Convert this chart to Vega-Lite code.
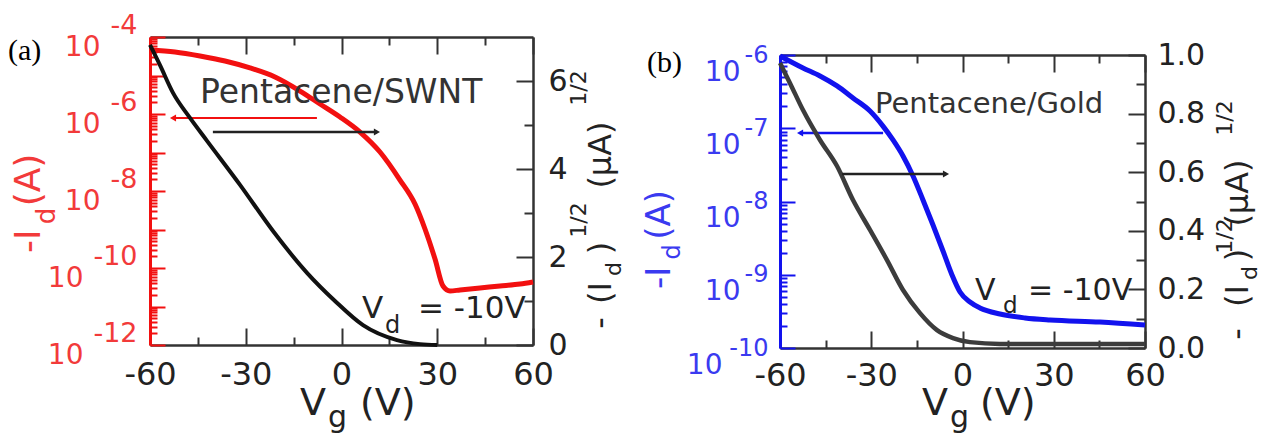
{
  "$schema": "https://vega.github.io/schema/vega-lite/v6.json",
  "background": "white",
  "padding": {"left": 8, "top": 11, "right": 4, "bottom": 2},
  "autosize": {"type": "pad"},
  "bounds": "flush",
  "spacing": 247,
  "config": {
    "view": {"stroke": null},
    "axis": {"grid": false, "labelFont": "DejaVu Sans", "labelFlush": false, "labelOverlap": false, "labelBound": false, "tickWidth": 2, "domainWidth": 2.5, "tickColor": "#333", "domainColor": "#333", "labelColor": "#222"},
    "text": {"font": "DejaVu Sans"}
  },
  "datasets": {
    "a_red": [
      {"Vg": -60, "Id": 4.59e-5}, {"Vg": -52.17, "Id": 4.07e-5}, {"Vg": -44.33, "Id": 3.21e-5}, {"Vg": -36.5, "Id": 2.38e-5},
      {"Vg": -28.67, "Id": 1.57e-5}, {"Vg": -20.84, "Id": 9.14e-6}, {"Vg": -13.0, "Id": 3.95e-6}, {"Vg": -6.74, "Id": 1.82e-6},
      {"Vg": -0.47, "Id": 8.35e-7}, {"Vg": 5.8, "Id": 3.4e-7}, {"Vg": 12.06, "Id": 1.03e-7}, {"Vg": 18.33, "Id": 1.93e-8},
      {"Vg": 23.03, "Id": 4.59e-9}, {"Vg": 26.16, "Id": 1.03e-9}, {"Vg": 29.3, "Id": 1.71e-10}, {"Vg": 31.8, "Id": 3.4e-11},
      {"Vg": 34.0, "Id": 2.53e-11}, {"Vg": 37.13, "Id": 2.69e-11}, {"Vg": 43.4, "Id": 3.03e-11}, {"Vg": 49.66, "Id": 3.4e-11},
      {"Vg": 55.93, "Id": 3.84e-11}, {"Vg": 60, "Id": 4.32e-11}
    ],
    "a_blk": [
      {"Vg": -60, "sq": 6.82}, {"Vg": -56.87, "sq": 6.36}, {"Vg": -52.79, "sq": 5.73}, {"Vg": -47.47, "sq": 5.16},
      {"Vg": -42.14, "sq": 4.64}, {"Vg": -31.8, "sq": 3.64}, {"Vg": -21.46, "sq": 2.59}, {"Vg": -10.81, "sq": 1.64},
      {"Vg": -2.04, "sq": 1.0}, {"Vg": 6.74, "sq": 0.45}, {"Vg": 17.39, "sq": 0.11}, {"Vg": 24.6, "sq": 0.02}, {"Vg": 30, "sq": 0.0}
    ],
    "b_blue": [
      {"Vg": -60, "Id": 9.69e-7}, {"Vg": -52.44, "Id": 6.65e-7}, {"Vg": -46.85, "Id": 5.17e-7}, {"Vg": -41.26, "Id": 3.78e-7},
      {"Vg": -36.0, "Id": 2.59e-7}, {"Vg": -30.41, "Id": 1.72e-7}, {"Vg": -26.14, "Id": 1.07e-7}, {"Vg": -22.85, "Id": 6.92e-8},
      {"Vg": -19.56, "Id": 4.18e-8}, {"Vg": -16.27, "Id": 2.23e-8}, {"Vg": -12.99, "Id": 1.05e-8}, {"Vg": -9.7, "Id": 4.78e-9},
      {"Vg": -6.41, "Id": 2.11e-9}, {"Vg": -3.45, "Id": 9.93e-10}, {"Vg": -0.82, "Id": 5.81e-10}, {"Vg": 2.47, "Id": 4.24e-10},
      {"Vg": 5.75, "Id": 3.52e-10}, {"Vg": 12.33, "Id": 2.91e-10}, {"Vg": 20.55, "Id": 2.57e-10}, {"Vg": 28.79, "Id": 2.41e-10},
      {"Vg": 45.21, "Id": 2.26e-10}, {"Vg": 60, "Id": 2.06e-10}
    ],
    "b_blk": [
      {"Vg": -60, "sq": 0.973}, {"Vg": -56.71, "sq": 0.904}, {"Vg": -52.44, "sq": 0.812}, {"Vg": -46.85, "sq": 0.71},
      {"Vg": -41.26, "sq": 0.621}, {"Vg": -36.0, "sq": 0.505}, {"Vg": -30.41, "sq": 0.403}, {"Vg": -24.82, "sq": 0.3},
      {"Vg": -19.56, "sq": 0.198}, {"Vg": -13.97, "sq": 0.119}, {"Vg": -8.38, "sq": 0.061}, {"Vg": -3.12, "sq": 0.034},
      {"Vg": 2.47, "sq": 0.02}, {"Vg": 12.33, "sq": 0.014}, {"Vg": 28.79, "sq": 0.014}, {"Vg": 45.21, "sq": 0.014}, {"Vg": 60, "sq": 0.014}
    ]
  },
  "hconcat": [
    {
      "width": 383,
      "height": 308,
      "layer": [
        {
          "layer": [
            {
              "data": {"name": "a_red"},
              "mark": {"type": "line", "color": "#f21010", "strokeWidth": 5, "interpolate": "monotone"},
              "encoding": {
                "x": {"field": "Vg", "type": "quantitative", "scale": {"domain": [-60, 60], "nice": false, "zero": false},
                  "axis": {"orient": "bottom", "title": null, "values": [-60, -45, -30, -15, 0, 15, 30, 45, 60],
                    "labelExpr": "datum.value % 30 == 0 ? '' + datum.value : ''",
                    "tickSize": {"condition": {"test": "datum.value % 30 == 0", "value": -17}, "value": -8},
                    "labelPadding": 31, "labelFontSize": 32}},
                "y": {"field": "Id", "type": "quantitative", "scale": {"type": "log", "domain": [1e-12, 1e-4], "nice": false},
                  "axis": {"orient": "left", "title": null,
                    "values": [1e-12,2e-12,3e-12,4e-12,5e-12,6e-12,7e-12,8e-12,9e-12,1e-11,2e-11,3e-11,4e-11,5e-11,6e-11,7e-11,8e-11,9e-11,1e-10,2e-10,3e-10,4e-10,5e-10,6e-10,7e-10,8e-10,9e-10,1e-9,2e-9,3e-9,4e-9,5e-9,6e-9,7e-9,8e-9,9e-9,1e-8,2e-8,3e-8,4e-8,5e-8,6e-8,7e-8,8e-8,9e-8,1e-7,2e-7,3e-7,4e-7,5e-7,6e-7,7e-7,8e-7,9e-7,1e-6,2e-6,3e-6,4e-6,5e-6,6e-6,7e-6,8e-6,9e-6,1e-5,2e-5,3e-5,4e-5,5e-5,6e-5,7e-5,8e-5,9e-5,1e-4],
                    "labelExpr": "abs(log(datum.value)/LN10 - round(log(datum.value)/LN10)) < 0.01 && round(log(datum.value)/LN10) % 2 == 0 ? '10' : ''",
                    "tickSize": {"condition": {"test": "abs(log(datum.value)/LN10 - round(log(datum.value)/LN10)) < 0.01", "value": -15}, "value": -7},
                    "labelPadding": {"condition": {"test": "datum.value < 3e-10", "value": 82}, "value": 65},
                    "labelOffset": 10, "labelFontSize": 28, "labelColor": "#f23a3a", "tickColor": "#f21010", "domainColor": "#f21010", "domainWidth": 3}}
              }
            },
            {
              "data": {"values": [{"Vg0": -52.8, "Vg1": -7.7, "Id": 7.87e-7}]},
              "mark": {"type": "rule", "color": "#f21010", "strokeWidth": 2},
              "encoding": {
                "x": {"field": "Vg0", "type": "quantitative", "scale": {"domain": [-60, 60], "nice": false, "zero": false}, "axis": null},
                "x2": {"field": "Vg1"},
                "y": {"field": "Id", "type": "quantitative", "scale": {"type": "log", "domain": [1e-12, 1e-4], "nice": false},
                  "axis": {"orient": "left", "title": null, "values": [1e-12, 1e-10, 1e-8, 1e-6, 1e-4],
                    "labelExpr": "'-' + abs(round(log(datum.value)/LN10))",
                    "ticks": false, "tickSize": 0, "domain": false, "labelPadding": 13, "labelOffset": -12,
                    "labelFontSize": 27, "labelColor": "#f23a3a", "labelAlign": "right"}}
              }
            },
            {
              "data": {"values": [{"Vg": -52.8, "Id": 7.87e-7}]},
              "mark": {"type": "point", "shape": "triangle-left", "filled": true, "color": "#f21010", "size": 50, "opacity": 1},
              "encoding": {
                "x": {"field": "Vg", "type": "quantitative", "scale": {"domain": [-60, 60], "nice": false, "zero": false}, "axis": null},
                "y": {"field": "Id", "type": "quantitative", "scale": {"type": "log", "domain": [1e-12, 1e-4], "nice": false}, "axis": null}
              }
            }
          ],
          "resolve": {"axis": {"x": "independent", "y": "independent"}}
        },
        {
          "layer": [
            {
              "data": {"name": "a_blk"},
              "mark": {"type": "line", "color": "#111", "strokeWidth": 4, "interpolate": "monotone"},
              "encoding": {
                "x": {"field": "Vg", "type": "quantitative", "scale": {"domain": [-60, 60], "nice": false, "zero": false},
                  "axis": {"orient": "top", "title": null, "values": [-60, -45, -30, -15, 0, 15, 30, 45, 60], "labels": false,
                    "tickSize": {"condition": {"test": "datum.value % 30 == 0", "value": -17}, "value": -8}}},
                "y": {"field": "sq", "type": "quantitative", "scale": {"domain": [0, 7], "nice": false, "zero": false},
                  "axis": {"orient": "right", "title": null, "values": [0, 1, 2, 3, 4, 5, 6],
                    "labelExpr": "datum.value % 2 == 0 ? '' + datum.value : ''",
                    "tickSize": {"condition": {"test": "datum.value % 2 == 0", "value": -17}, "value": -9},
                    "labelPadding": 32, "labelFontSize": 30}}
              }
            },
            {
              "data": {"values": [{"Vg0": -40.3, "Vg1": 11.1, "sq": 4.84}]},
              "mark": {"type": "rule", "color": "#222", "strokeWidth": 2.5},
              "encoding": {
                "x": {"field": "Vg0", "type": "quantitative", "scale": {"domain": [-60, 60], "nice": false, "zero": false}, "axis": null},
                "x2": {"field": "Vg1"},
                "y": {"field": "sq", "type": "quantitative", "scale": {"domain": [0, 7], "nice": false, "zero": false}, "axis": null}
              }
            },
            {
              "data": {"values": [{"Vg": 11.1, "sq": 4.84}]},
              "mark": {"type": "point", "shape": "triangle-right", "filled": true, "color": "#222", "size": 50, "opacity": 1},
              "encoding": {
                "x": {"field": "Vg", "type": "quantitative", "scale": {"domain": [-60, 60], "nice": false, "zero": false}, "axis": null},
                "y": {"field": "sq", "type": "quantitative", "scale": {"domain": [0, 7], "nice": false, "zero": false}, "axis": null}
              }
            },
            {
              "data": {"values": [{"Vg": -44.33, "sq": 5.5, "t": "Pentacene/SWNT"}]},
              "mark": {"type": "text", "align": "left", "baseline": "alphabetic", "fontSize": 33, "color": "#333"},
              "encoding": {"x": {"field": "Vg", "type": "quantitative", "axis": null}, "y": {"field": "sq", "type": "quantitative", "axis": null}, "text": {"field": "t"}}
            },
            {
              "data": {"values": [{"Vg": 6.42, "sq": 0.614, "t": "V"}, {"Vg": 23.97, "sq": 0.614, "t": "= -10V"}]},
              "mark": {"type": "text", "align": "left", "baseline": "alphabetic", "fontSize": 31, "color": "#222"},
              "encoding": {"x": {"field": "Vg", "type": "quantitative", "axis": null}, "y": {"field": "sq", "type": "quantitative", "axis": null}, "text": {"field": "t"}}
            },
            {
              "data": {"values": [{"Vg": 13.63, "sq": 0.273, "t": "d"}]},
              "mark": {"type": "text", "align": "left", "baseline": "alphabetic", "fontSize": 24, "color": "#222"},
              "encoding": {"x": {"field": "Vg", "type": "quantitative", "axis": null}, "y": {"field": "sq", "type": "quantitative", "axis": null}, "text": {"field": "t"}}
            },
            {
              "data": {"values": [{"Vg": -13.0, "sq": -1.591, "t": "V"}, {"Vg": 5.8, "sq": -1.591, "t": "(V)"}]},
              "mark": {"type": "text", "align": "left", "baseline": "alphabetic", "fontSize": 38, "color": "#222"},
              "encoding": {"x": {"field": "Vg", "type": "quantitative", "axis": null}, "y": {"field": "sq", "type": "quantitative", "axis": null}, "text": {"field": "t"}}
            },
            {
              "data": {"values": [{"Vg": -4.23, "sq": -1.864, "t": "g"}]},
              "mark": {"type": "text", "align": "left", "baseline": "alphabetic", "fontSize": 30, "color": "#222"},
              "encoding": {"x": {"field": "Vg", "type": "quantitative", "axis": null}, "y": {"field": "sq", "type": "quantitative", "axis": null}, "text": {"field": "t"}}
            },
            {
              "data": {"values": [{"Vg": -104.49, "sq": 6.47, "t": "(a)"}]},
              "mark": {"type": "text", "align": "left", "baseline": "alphabetic", "fontSize": 30, "font": "Liberation Serif", "color": "#000"},
              "encoding": {"x": {"field": "Vg", "type": "quantitative", "axis": null}, "y": {"field": "sq", "type": "quantitative", "axis": null}, "text": {"field": "t"}}
            },
            {
              "data": {"values": [{"Vg": -94.6, "sq": 2.36, "t": "-I"}, {"Vg": -94.6, "sq": 3.75, "t": "(A)"}]},
              "mark": {"type": "text", "align": "center", "baseline": "alphabetic", "angle": 270, "fontSize": 36, "color": "#f23a3a"},
              "encoding": {"x": {"field": "Vg", "type": "quantitative", "axis": null}, "y": {"field": "sq", "type": "quantitative", "axis": null}, "text": {"field": "t"}}
            },
            {
              "data": {"values": [{"Vg": -89.9, "sq": 2.93, "t": "d"}]},
              "mark": {"type": "text", "align": "center", "baseline": "alphabetic", "angle": 270, "fontSize": 26, "color": "#f23a3a"},
              "encoding": {"x": {"field": "Vg", "type": "quantitative", "axis": null}, "y": {"field": "sq", "type": "quantitative", "axis": null}, "text": {"field": "t"}}
            },
            {
              "data": {"values": [{"Vg": 84.44, "sq": 0.5, "t": "-"}, {"Vg": 84.44, "sq": 1.182, "t": "(I"}, {"Vg": 84.44, "sq": 2.205, "t": ")"}, {"Vg": 84.44, "sq": 4.318, "t": "(μA)"}]},
              "mark": {"type": "text", "align": "center", "baseline": "alphabetic", "angle": 270, "fontSize": 32, "color": "#222"},
              "encoding": {"x": {"field": "Vg", "type": "quantitative", "axis": null}, "y": {"field": "sq", "type": "quantitative", "axis": null}, "text": {"field": "t"}}
            },
            {
              "data": {"values": [{"Vg": 87.57, "sq": 1.727, "t": "d"}, {"Vg": 76.6, "sq": 2.841, "t": "1/2"}, {"Vg": 76.6, "sq": 5.841, "t": "1/2"}]},
              "mark": {"type": "text", "align": "center", "baseline": "alphabetic", "angle": 270, "fontSize": 22, "color": "#222"},
              "encoding": {"x": {"field": "Vg", "type": "quantitative", "axis": null}, "y": {"field": "sq", "type": "quantitative", "axis": null}, "text": {"field": "t"}}
            }
          ],
          "resolve": {"axis": {"x": "independent", "y": "independent"}}
        }
      ],
      "resolve": {"scale": {"y": "independent"}, "axis": {"x": "independent"}}
    },
    {
      "spacing": 0,
      "bounds": "flush",
      "vconcat": [
        {
          "width": 365,
          "height": 18,
          "data": {"values": [{"k": 0}]},
          "mark": {"type": "point", "opacity": 0}
        },
        {
          "width": 365,
          "height": 293,
          "layer": [
            {
              "layer": [
                {
                  "data": {"name": "b_blue"},
                  "mark": {"type": "line", "color": "#1212ee", "strokeWidth": 5, "interpolate": "monotone"},
                  "encoding": {
                    "x": {"field": "Vg", "type": "quantitative", "scale": {"domain": [-60, 60], "nice": false, "zero": false},
                      "axis": {"orient": "bottom", "title": null, "values": [-60, -45, -30, -15, 0, 15, 30, 45, 60],
                        "labelExpr": "datum.value % 30 == 0 ? '' + datum.value : ''",
                        "tickSize": {"condition": {"test": "datum.value % 30 == 0", "value": -17}, "value": -8},
                        "labelPadding": 29, "labelFontSize": 32}},
                    "y": {"field": "Id", "type": "quantitative", "scale": {"type": "log", "domain": [1e-10, 1e-6], "nice": false},
                      "axis": {"orient": "left", "title": null,
                        "values": [1e-10,2e-10,3e-10,4e-10,5e-10,6e-10,7e-10,8e-10,9e-10,1e-9,2e-9,3e-9,4e-9,5e-9,6e-9,7e-9,8e-9,9e-9,1e-8,2e-8,3e-8,4e-8,5e-8,6e-8,7e-8,8e-8,9e-8,1e-7,2e-7,3e-7,4e-7,5e-7,6e-7,7e-7,8e-7,9e-7,1e-6],
                        "labelExpr": "abs(log(datum.value)/LN10 - round(log(datum.value)/LN10)) < 0.01 ? '10' : ''",
                        "tickSize": {"condition": {"test": "abs(log(datum.value)/LN10 - round(log(datum.value)/LN10)) < 0.01", "value": -15}, "value": -7},
                        "labelPadding": {"condition": {"test": "datum.value < 3e-10", "value": 73}, "value": 55},
                        "labelOffset": 17, "labelFontSize": 28, "labelColor": "#3a3af0", "tickColor": "#1212ee", "domainColor": "#1212ee", "domainWidth": 3}}
                  }
                },
                {
                  "data": {"values": [{"Vg0": -53.4, "Vg1": -26.1, "Id": 8.6e-8}]},
                  "mark": {"type": "rule", "color": "#1212ee", "strokeWidth": 2.5},
                  "encoding": {
                    "x": {"field": "Vg0", "type": "quantitative", "scale": {"domain": [-60, 60], "nice": false, "zero": false}, "axis": null},
                    "x2": {"field": "Vg1"},
                    "y": {"field": "Id", "type": "quantitative", "scale": {"type": "log", "domain": [1e-10, 1e-6], "nice": false},
                      "axis": {"orient": "left", "title": null, "values": [1e-10, 1e-9, 1e-8, 1e-7, 1e-6],
                        "labelExpr": "'-' + abs(round(log(datum.value)/LN10))",
                        "ticks": false, "tickSize": 0, "domain": false, "labelPadding": 12, "labelOffset": 0,
                        "labelFontSize": 24, "labelColor": "#3a3af0", "labelAlign": "right"}}
                  }
                },
                {
                  "data": {"values": [{"Vg": -53.4, "Id": 8.6e-8}]},
                  "mark": {"type": "point", "shape": "triangle-left", "filled": true, "color": "#1212ee", "size": 50, "opacity": 1},
                  "encoding": {
                    "x": {"field": "Vg", "type": "quantitative", "scale": {"domain": [-60, 60], "nice": false, "zero": false}, "axis": null},
                    "y": {"field": "Id", "type": "quantitative", "scale": {"type": "log", "domain": [1e-10, 1e-6], "nice": false}, "axis": null}
                  }
                }
              ],
              "resolve": {"axis": {"x": "independent", "y": "independent"}}
            },
            {
              "layer": [
                {
                  "data": {"name": "b_blk"},
                  "mark": {"type": "line", "color": "#3c3c3c", "strokeWidth": 4.5, "interpolate": "monotone"},
                  "encoding": {
                    "x": {"field": "Vg", "type": "quantitative", "scale": {"domain": [-60, 60], "nice": false, "zero": false},
                      "axis": {"orient": "top", "title": null, "values": [-60, -45, -30, -15, 0, 15, 30, 45, 60], "labels": false,
                        "tickSize": {"condition": {"test": "datum.value % 30 == 0", "value": -17}, "value": -8}}},
                    "y": {"field": "sq", "type": "quantitative", "scale": {"domain": [0, 1], "nice": false, "zero": false},
                      "axis": {"orient": "right", "title": null, "values": [0, 0.1, 0.2, 0.3, 0.4, 0.5, 0.6, 0.7, 0.8, 0.9, 1.0],
                        "labelExpr": "round(datum.value*10) % 2 == 0 ? format(datum.value, '.1f') : ''",
                        "tickSize": {"condition": {"test": "round(datum.value*10) % 2 == 0", "value": -17}, "value": -9},
                        "labelPadding": 29, "labelFontSize": 30}}
                  }
                },
                {
                  "data": {"values": [{"Vg0": -39.6, "Vg1": -5.42, "sq": 0.594}]},
                  "mark": {"type": "rule", "color": "#222", "strokeWidth": 2.5},
                  "encoding": {
                    "x": {"field": "Vg0", "type": "quantitative", "scale": {"domain": [-60, 60], "nice": false, "zero": false}, "axis": null},
                    "x2": {"field": "Vg1"},
                    "y": {"field": "sq", "type": "quantitative", "scale": {"domain": [0, 1], "nice": false, "zero": false}, "axis": null}
                  }
                },
                {
                  "data": {"values": [{"Vg": -5.42, "sq": 0.594}]},
                  "mark": {"type": "point", "shape": "triangle-right", "filled": true, "color": "#222", "size": 50, "opacity": 1},
                  "encoding": {
                    "x": {"field": "Vg", "type": "quantitative", "scale": {"domain": [-60, 60], "nice": false, "zero": false}, "axis": null},
                    "y": {"field": "sq", "type": "quantitative", "scale": {"domain": [0, 1], "nice": false, "zero": false}, "axis": null}
                  }
                },
                {
                  "data": {"values": [{"Vg": -28.77, "sq": 0.802, "t": "Pentacene/Gold"}]},
                  "mark": {"type": "text", "align": "left", "baseline": "alphabetic", "fontSize": 29, "color": "#333"},
                  "encoding": {"x": {"field": "Vg", "type": "quantitative", "axis": null}, "y": {"field": "sq", "type": "quantitative", "axis": null}, "text": {"field": "t"}}
                },
                {
                  "data": {"values": [{"Vg": 4.11, "sq": 0.164, "t": "V"}, {"Vg": 21.53, "sq": 0.164, "t": "= -10V"}]},
                  "mark": {"type": "text", "align": "left", "baseline": "alphabetic", "fontSize": 30, "color": "#222"},
                  "encoding": {"x": {"field": "Vg", "type": "quantitative", "axis": null}, "y": {"field": "sq", "type": "quantitative", "axis": null}, "text": {"field": "t"}}
                },
                {
                  "data": {"values": [{"Vg": 13.32, "sq": 0.1195, "t": "d"}]},
                  "mark": {"type": "text", "align": "left", "baseline": "alphabetic", "fontSize": 23, "color": "#222"},
                  "encoding": {"x": {"field": "Vg", "type": "quantitative", "axis": null}, "y": {"field": "sq", "type": "quantitative", "axis": null}, "text": {"field": "t"}}
                },
                {
                  "data": {"values": [{"Vg": -13.31, "sq": -0.2287, "t": "V"}, {"Vg": 5.75, "sq": -0.2287, "t": "(V)"}]},
                  "mark": {"type": "text", "align": "left", "baseline": "alphabetic", "fontSize": 38, "color": "#222"},
                  "encoding": {"x": {"field": "Vg", "type": "quantitative", "axis": null}, "y": {"field": "sq", "type": "quantitative", "axis": null}, "text": {"field": "t"}}
                },
                {
                  "data": {"values": [{"Vg": -4.11, "sq": -0.2696, "t": "g"}]},
                  "mark": {"type": "text", "align": "left", "baseline": "alphabetic", "fontSize": 30, "color": "#222"},
                  "encoding": {"x": {"field": "Vg", "type": "quantitative", "axis": null}, "y": {"field": "sq", "type": "quantitative", "axis": null}, "text": {"field": "t"}}
                },
                {
                  "data": {"values": [{"Vg": -103.73, "sq": 0.942, "t": "(b)"}]},
                  "mark": {"type": "text", "align": "left", "baseline": "alphabetic", "fontSize": 30, "font": "Liberation Serif", "color": "#000"},
                  "encoding": {"x": {"field": "Vg", "type": "quantitative", "axis": null}, "y": {"field": "sq", "type": "quantitative", "axis": null}, "text": {"field": "t"}}
                },
                {
                  "data": {"values": [{"Vg": -96.16, "sq": 0.239, "t": "-I"}, {"Vg": -96.16, "sq": 0.454, "t": "(A)"}]},
                  "mark": {"type": "text", "align": "center", "baseline": "alphabetic", "angle": 270, "fontSize": 34, "color": "#3a3af0"},
                  "encoding": {"x": {"field": "Vg", "type": "quantitative", "axis": null}, "y": {"field": "sq", "type": "quantitative", "axis": null}, "text": {"field": "t"}}
                },
                {
                  "data": {"values": [{"Vg": -92.88, "sq": 0.328, "t": "d"}]},
                  "mark": {"type": "text", "align": "center", "baseline": "alphabetic", "angle": 270, "fontSize": 24, "color": "#3a3af0"},
                  "encoding": {"x": {"field": "Vg", "type": "quantitative", "axis": null}, "y": {"field": "sq", "type": "quantitative", "axis": null}, "text": {"field": "t"}}
                },
                {
                  "data": {"values": [{"Vg": 93.86, "sq": 0.0478, "t": "-"}, {"Vg": 93.86, "sq": 0.1775, "t": "(I"}, {"Vg": 93.86, "sq": 0.317, "t": ")"}, {"Vg": 93.86, "sq": 0.529, "t": "(μA)"}]},
                  "mark": {"type": "text", "align": "center", "baseline": "alphabetic", "angle": 270, "fontSize": 32, "color": "#222"},
                  "encoding": {"x": {"field": "Vg", "type": "quantitative", "axis": null}, "y": {"field": "sq", "type": "quantitative", "axis": null}, "text": {"field": "t"}}
                },
                {
                  "data": {"values": [{"Vg": 96.82, "sq": 0.256, "t": "d"}, {"Vg": 88.6, "sq": 0.382, "t": "1/2"}, {"Vg": 88.6, "sq": 0.785, "t": "1/2"}]},
                  "mark": {"type": "text", "align": "center", "baseline": "alphabetic", "angle": 270, "fontSize": 22, "color": "#222"},
                  "encoding": {"x": {"field": "Vg", "type": "quantitative", "axis": null}, "y": {"field": "sq", "type": "quantitative", "axis": null}, "text": {"field": "t"}}
                }
              ],
              "resolve": {"axis": {"x": "independent", "y": "independent"}}
            }
          ],
          "resolve": {"scale": {"y": "independent"}, "axis": {"x": "independent"}}
        }
      ]
    }
  ]
}
